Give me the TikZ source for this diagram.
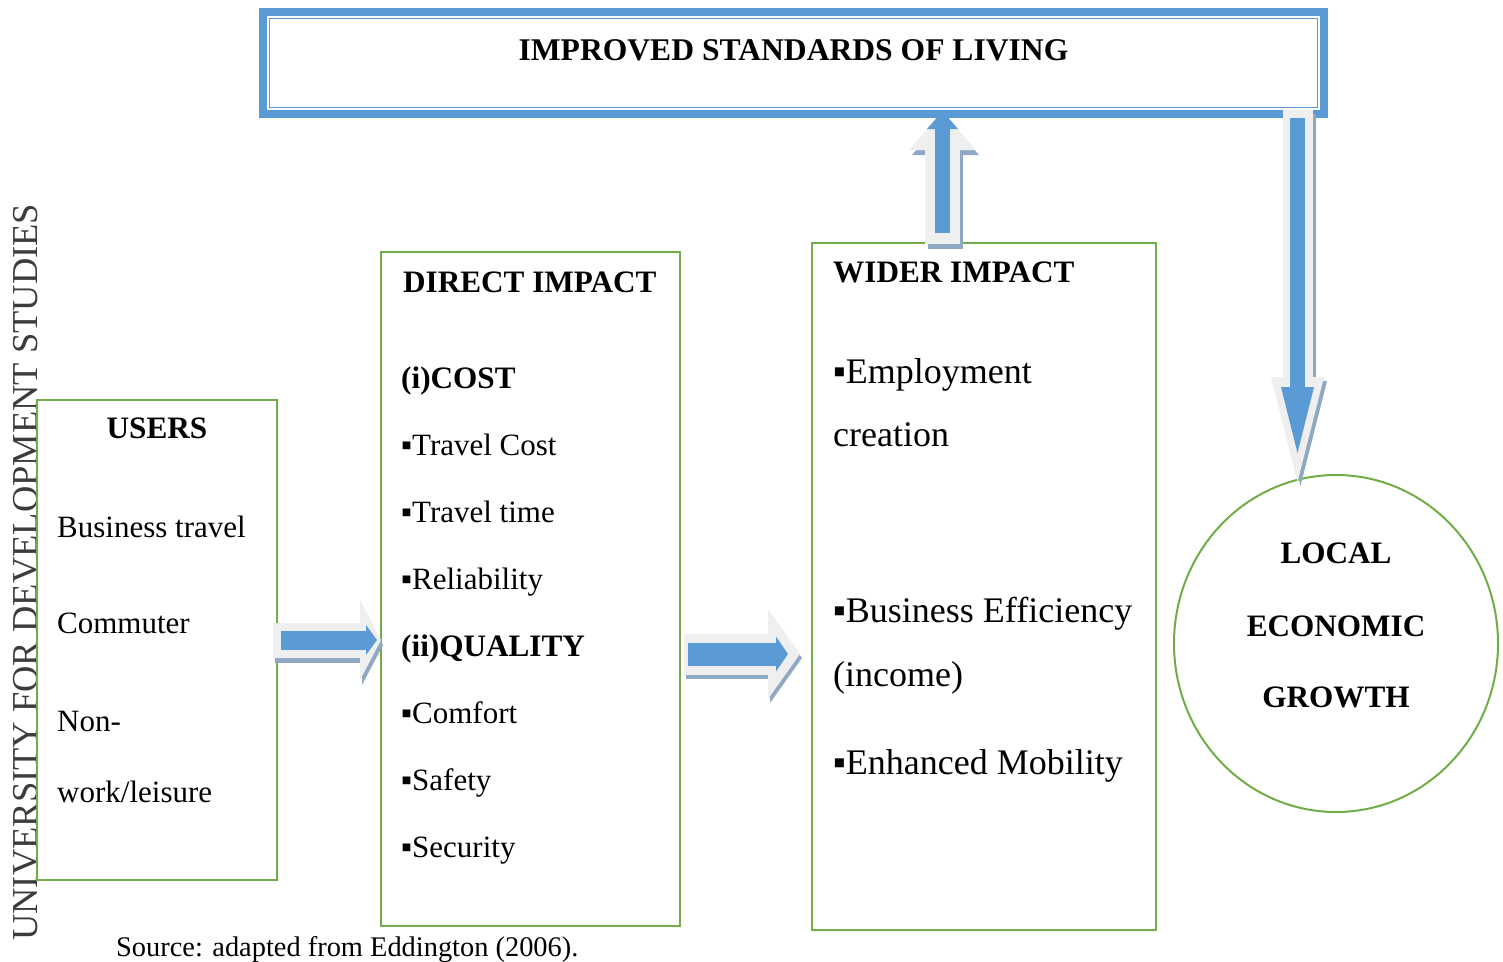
\documentclass[tikz,border=0pt]{standalone}
\usepackage{fontspec}
\setmainfont{Liberation Serif}
\usetikzlibrary{shapes.geometric, arrows.meta, positioning}
\definecolor{frameblue}{HTML}{5B9BD5}
\definecolor{boxgreen}{HTML}{70AD47}
\definecolor{rimgray}{HTML}{EFEFEF}
\definecolor{shadowblue}{HTML}{8FA8C4}
\definecolor{markgray}{HTML}{3C3C3C}
\tikzstyle{greenbox} = [rectangle, draw=boxgreen, line width=2pt]
\tikzstyle{greenring} = [ellipse, draw=boxgreen, line width=2pt]
\tikzstyle{livingframe} = [rectangle, draw=frameblue, line width=8pt]
\tikzstyle{heading} = [font=\fontsize{31.2}{37}\selectfont\bfseries, inner sep=0pt, anchor=base west]
\tikzstyle{entry} = [font=\fontsize{31}{37}\selectfont, inner sep=0pt, anchor=base west]
\tikzstyle{bigentry} = [font=\fontsize{36}{43}\selectfont, inner sep=0pt, anchor=base west]
\tikzstyle{arrowrim} = [draw=rimgray]
\tikzstyle{arrowcore} = [draw=frameblue]
\tikzstyle{arrowshadow} = [draw=shadowblue]

\begin{document}
\begin{tikzpicture}[x=1pt, y=1pt]
	\useasboundingbox (0,0) rectangle (1503,-961);

	\node (udsmark) [font=\fontsize{36.5}{44}\selectfont, text=markgray, rotate=90, anchor=base west, inner sep=0pt] at (37,-941) {UNIVERSITY FOR DEVELOPMENT STUDIES};

	% boxes
	\node (users) [greenbox, minimum width=240pt, minimum height=480pt] at (157,-640) {};
	\node (direct) [greenbox, minimum width=299pt, minimum height=674pt, right=102pt of users, yshift=51pt] {};
	\node (wider) [greenbox, minimum width=344pt, minimum height=687pt, right=130pt of direct, yshift=2.5pt] {};
	\node (local) [greenring, minimum width=324pt, minimum height=337pt, right=16pt of wider, yshift=-57pt] {};
	\node (living) [livingframe, minimum width=1061pt, minimum height=102pt] at (793.5,-63) {};
	\draw [frameblue, line width=1.2pt] ([shift={(10.5pt,-10.5pt)}]living.north west) rectangle ([shift={(-10.5pt,10.5pt)}]living.south east);

	\node (livingtitle) [heading, anchor=base, font=\fontsize{31.6}{37}\selectfont\bfseries] at ([yshift=3pt]living.center) {IMPROVED STANDARDS OF LIVING};

	% users
	\node (userstitle) [heading, anchor=base] at ([yshift=-39pt]users.north) {USERS};
	\node (business) [entry] at ([shift={(21pt,-138pt)}]users.north west) {Business travel};
	\node (commuter) [below=96pt of business.base west, entry] {Commuter};
	\node (nonwork) [below=98pt of commuter.base west, entry] {Non-};
	\node (leisure) [below=71pt of nonwork.base west, entry] {work/leisure};

	% direct impact
	\node (directtitle) [heading] at ([shift={(23pt,-41pt)}]direct.north west) {DIRECT IMPACT};
	\node (costhead) [below=96pt of directtitle.base west, heading, xshift=-2pt] {(i)COST};
	\node (travelcost) [below=67pt of costhead.base west, entry] {▪Travel Cost};
	\node (traveltime) [below=67pt of travelcost.base west, entry] {▪Travel time};
	\node (reliability) [below=67pt of traveltime.base west, entry] {▪Reliability};
	\node (qualityhead) [below=67pt of reliability.base west, heading] {(ii)QUALITY};
	\node (comfort) [below=67pt of qualityhead.base west, entry] {▪Comfort};
	\node (safety) [below=67pt of comfort.base west, entry] {▪Safety};
	\node (security) [below=67pt of safety.base west, entry] {▪Security};

	% wider impact
	\node (widertitle) [heading] at ([shift={(22pt,-40pt)}]wider.north west) {WIDER IMPACT};
	\node (employment) [below=101pt of widertitle.base west, bigentry] {▪Employment};
	\node (creation) [below=63pt of employment.base west, bigentry] {creation};
	\node (efficiency) [below=176pt of creation.base west, bigentry] {▪Business Efficiency};
	\node (income) [below=64pt of efficiency.base west, bigentry] {(income)};
	\node (mobility) [below=88pt of income.base west, bigentry] {▪Enhanced Mobility};

	% growth
	\node (localtext) [heading, anchor=base] at ([yshift=80.5pt]local.center) {LOCAL};
	\node (economictext) [below=73pt of localtext.base, heading, anchor=base] {ECONOMIC};
	\node (growthtext) [below=71pt of economictext.base, heading, anchor=base] {GROWTH};

	\node (source) [entry, font=\fontsize{28.4}{34}\selectfont] at (116,-956) {Source: adapted from Eddington (2006).};

	% block arrows
	\draw [arrowshadow, line width=35pt, -{Triangle[length=21pt, width=80pt, line width=0pt]}, shorten <=-5pt, shorten >=-1pt, transform canvas={shift={(2pt,-5pt)}}] (users.east) -- (users.east -| direct.west);
	\draw [arrowrim, line width=35pt, -{Triangle[length=21pt, width=80pt, line width=0pt]}, shorten <=-5pt, shorten >=-1pt] (users.east) -- (users.east -| direct.west);
	\draw [arrowcore, line width=19pt, -{Triangle[length=11pt, width=30pt, line width=0pt]}, shorten <=3pt, shorten >=3pt] (users.east) -- (users.east -| direct.west);

	\coordinate (bstart) at ([yshift=-65pt]direct.east);
	\draw [arrowshadow, line width=41pt, -{Triangle[length=32pt, width=90pt, line width=0pt]}, shorten <=3pt, shorten >=11pt, transform canvas={shift={(2pt,-4pt)}}] (bstart) -- (bstart -| wider.west);
	\draw [arrowrim, line width=41pt, -{Triangle[length=32pt, width=90pt, line width=0pt]}, shorten <=3pt, shorten >=11pt] (bstart) -- (bstart -| wider.west);
	\draw [arrowcore, line width=23pt, -{Triangle[length=12pt, width=35pt, line width=0pt]}, shorten <=7pt, shorten >=23pt] (bstart) -- (bstart -| wider.west);

	\coordinate (cstart) at ([xshift=-41.5pt]wider.north);
	\draw [arrowshadow, line width=35pt, -{Triangle[length=38pt, width=67pt, line width=0pt]}, shorten <=-2pt, shorten >=-6pt, transform canvas={shift={(3pt,-5pt)}}] (cstart) -- (cstart |- living.south);
	\draw [arrowrim, line width=35pt, -{Triangle[length=38pt, width=67pt, line width=0pt]}, shorten <=-2pt, shorten >=-6pt] (cstart) -- (cstart |- living.south);
	\draw [arrowcore, line width=15pt, -{Triangle[length=18pt, width=31pt, line width=0pt]}, shorten <=9pt, shorten >=-7pt] (cstart) -- (cstart |- living.south);

	\coordinate (dstart) at ([xshift=-30.5pt]living.south east);
	\draw [arrowshadow, line width=30pt, -{Triangle[length=105pt, width=53pt, line width=0pt]}, shorten <=-8pt, shorten >=-8pt, transform canvas={shift={(3pt,-4pt)}}] (dstart) -- (dstart |- local.north);
	\draw [arrowrim, line width=30pt, -{Triangle[length=105pt, width=53pt, line width=0pt]}, shorten <=-8pt, shorten >=-8pt] (dstart) -- (dstart |- local.north);
	\draw [arrowcore, line width=15pt, -{Triangle[length=66pt, width=33pt, line width=0pt]}, shorten >=21pt] (dstart) -- (dstart |- local.north);
\end{tikzpicture}
\end{document}
